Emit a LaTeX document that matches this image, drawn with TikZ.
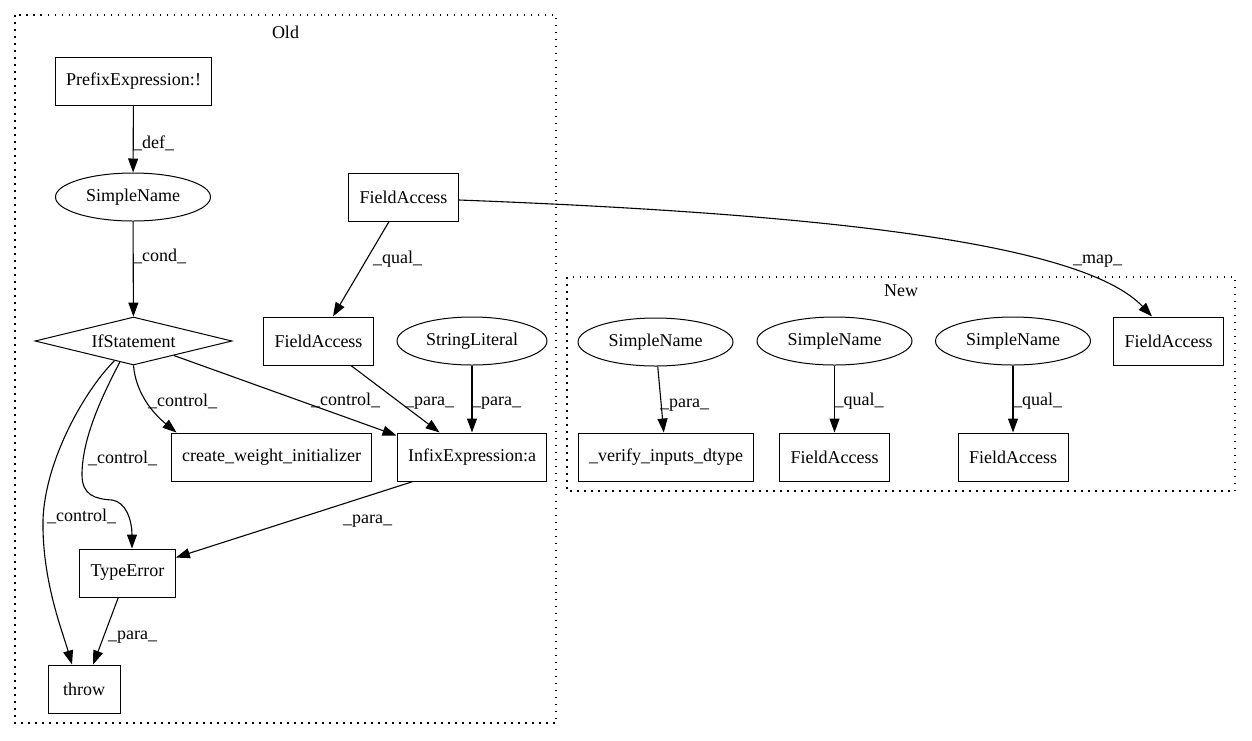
\documentclass[tikz,border=0pt]{standalone}
\usepackage{fontspec}
\setmainfont{Liberation Serif}
\usetikzlibrary{arrows.meta,shapes.geometric}
\begin{document}
\begin{tikzpicture}[
  x=1pt, y=-1pt,
  font=\fontsize{18}{20}\selectfont,
  block/.style={rectangle, draw, line width=1pt, minimum width=72pt, minimum height=48pt, inner xsep=11pt},
  oval/.style={ellipse, draw, line width=1pt, minimum width=155pt, minimum height=48pt, inner sep=0pt},
  decision/.style={diamond, draw, line width=1pt, minimum width=197pt, minimum height=48pt, inner sep=0pt, aspect=4},
  flow/.style={-{Triangle[length=14pt,width=10pt]}, line width=1.1pt},
  lab/.style={anchor=base west, inner sep=0pt},
  group/.style={draw, line width=1.1pt, dash pattern=on 1.5pt off 5.5pt}
]
\useasboundingbox (0,0) rectangle (1252,740);

% clusters
\draw[group] (15,15) rectangle (556,723);
\node (oldtitle) at (285.5,32) {Old};
\draw[group] (567,277) rectangle (1235,491);
\node (newtitle) at (901,291) {New};

% old
\node[block] (prefix) at (133.5,81) {PrefixExpression:!};
\node[oval] (oldname) at (133,197) {SimpleName};
\node[decision] (ifstmt) at (133.5,341) {IfStatement};
\node[block] (fatop) at (403.5,197) {FieldAccess};
\node[block] (famid) at (318.5,341) {FieldAccess};
\node[oval, minimum width=150pt] (strlit) at (472,341) {StringLiteral};
\node[block] (cwi) at (271.5,457) {create\_weight\_initializer};
\node[block] (infix) at (472,457) {InfixExpression:a};
\node[block] (typeerr) at (127.5,573) {TypeError};
\node[block] (throw) at (84,689) {throw};

% new
\node[oval] (namea) at (655.5,342) {SimpleName};
\node[oval] (nameb) at (834.5,341) {SimpleName};
\node[oval] (namec) at (1013,341) {SimpleName};
\node[block] (famap) at (1168.5,341) {FieldAccess};
\node[block] (verify) at (666,457) {\_verify\_inputs\_dtype};
\node[block] (fab) at (834.5,457) {FieldAccess};
\node[block] (fac) at (1013,457) {FieldAccess};

% edges
\draw[flow] (prefix) -- (oldname);
\draw[flow] (oldname) -- (ifstmt);
\draw[flow] (fatop) -- (famid);
\draw[flow] ([yshift=-3pt]fatop.east) .. controls (800,213) and (1080,240) .. ([xshift=-16.5pt]famap.north);
\draw[flow] (ifstmt.south) .. controls (136,395) and (155,415) .. ([xshift=6pt]cwi.north west);
\draw[flow] (ifstmt) -- ([yshift=-3pt]infix.north west);
\draw[flow] (famid) -- (infix);
\draw[flow] (strlit) -- (infix);
\draw[flow] (ifstmt.237) .. controls (100,400) and (82,440) .. (82,475)
  .. controls (82,495) and (95,499) .. (112,500)
  .. controls (126,502) and (132,520) .. ([xshift=4.5pt]typeerr.north);
\draw[flow] (ifstmt.226) .. controls (85,390) and (45,460) .. (43,520)
  .. controls (42,580) and (62,630) .. ([xshift=-12pt]throw.north);
\draw[flow] ([xshift=-59pt]infix.south) -- (typeerr);
\draw[flow] (typeerr) -- (throw);
\draw[flow] (namea) -- (verify);
\draw[flow] (nameb) -- (fab);
\draw[flow] (namec) -- (fac);

% edge labels
\node[lab] (deflab) at (133,148) {\_def\_};
\node[lab] (condlab) at (133,261) {\_cond\_};
\node[lab] (quallab) at (373,263) {\_qual\_};
\node[lab] (maplab) at (1073,263) {\_map\_};
\node[lab] (ctrlcwi) at (148,406) {\_control\_};
\node[lab] (ctrlinfix) at (311,405) {\_control\_};
\node[lab] (parafa) at (405,405) {\_para\_};
\node[lab] (parastr) at (472,405) {\_para\_};
\node[lab] (ctrlte) at (88,463) {\_control\_};
\node[lab] (ctrlthrow) at (47,521) {\_control\_};
\node[lab] (parainfix) at (343,523) {\_para\_};
\node[lab] (parate) at (108,639) {\_para\_};
\node[lab] (paranew) at (660,407) {\_para\_};
\node[lab] (qualb) at (834.5,405) {\_qual\_};
\node[lab] (qualc) at (1013,405) {\_qual\_};
\end{tikzpicture}
\end{document}
